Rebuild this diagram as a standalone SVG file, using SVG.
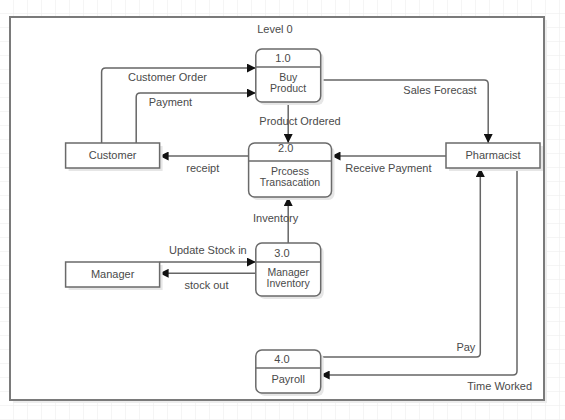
<svg xmlns="http://www.w3.org/2000/svg" width="565" height="420" viewBox="0 0 565 420">
<style>
text{font-family:"Liberation Sans",Arial,sans-serif;font-size:11px;fill:#4a4a4a;text-anchor:middle}
text.two{font-size:10.5px}
.box{fill:#fff;stroke:#6a6a6a;stroke-width:1.5}
.shadow{fill:#e6e6e6;stroke:none}
.div{stroke:#6a6a6a;stroke-width:1.5}
.conn path{fill:none;stroke:#666;stroke-width:1.5}
</style>
<defs>
<pattern id="grid" width="14" height="14" patternUnits="userSpaceOnUse" x="13" y="13">
<path d="M0 0H14M0 0V14" fill="none" stroke="#ececec" stroke-width="1"/>
</pattern>
<marker id="arr" viewBox="0 0 10 10" refX="10" refY="5" markerWidth="9" markerHeight="9" markerUnits="userSpaceOnUse" orient="auto">
<path d="M0 0L10 5L0 10z" fill="#111"/>
</marker>
</defs>
<rect width="565" height="420" fill="#fff"/>
<rect width="565" height="420" fill="url(#grid)"/>
<g id="frame">
<rect x="13" y="20" width="534" height="383" fill="#ededed"/>
<rect x="10" y="17" width="534" height="383" fill="#fff" stroke="#7a7a7a" stroke-width="2"/>
<text x="275" y="33">Level 0</text>
</g>
<g class="conn" id="connectors">
<path d="M101.6 143V72Q101.6 68 105.6 68H255.8" marker-end="url(#arr)"/>
<path d="M136.2 143V97Q136.2 93 140.2 93H255.8" marker-end="url(#arr)"/>
<path d="M320.7 80H484.2Q488.2 80 488.2 84V143" marker-end="url(#arr)"/>
<path d="M288.2 102V143" marker-end="url(#arr)"/>
<path d="M248.6 156H159.6" marker-end="url(#arr)"/>
<path d="M446 156H331.5" marker-end="url(#arr)"/>
<path d="M288.2 243V197" marker-end="url(#arr)"/>
<path d="M159.6 262H255.8" marker-end="url(#arr)"/>
<path d="M255.8 273.3H159.6" marker-end="url(#arr)"/>
<path d="M320.7 357H476.3Q480.3 357 480.3 353V168" marker-end="url(#arr)"/>
<path d="M517 168V371Q517 375 513 375H320.7" marker-end="url(#arr)"/>
<text x="167.5" y="81">Customer Order</text>
<text x="170.4" y="106">Payment</text>
<text x="440" y="94">Sales Forecast</text>
<text x="300" y="125">Product Ordered</text>
<text x="202.8" y="172">receipt</text>
<text x="388.4" y="172">Receive Payment</text>
<text x="275.6" y="222">Inventory</text>
<text x="207.9" y="254">Update Stock in</text>
<text x="206.5" y="289">stock out</text>
<text x="465.9" y="351">Pay</text>
<text x="499.7" y="390">Time Worked</text>
</g>
<g id="p1">
<rect class="shadow" x="258.8" y="52" width="64.9" height="53" rx="6"/>
<rect class="box" x="255.8" y="49" width="64.9" height="53" rx="6"/>
<line class="div" x1="255.8" y1="67" x2="320.7" y2="67"/>
<text x="283" y="62">1.0</text>
<text class="two" x="288.2" y="81">Buy</text>
<text class="two" x="288.2" y="92">Product</text>
</g>
<g id="p2">
<rect class="shadow" x="251.6" y="146" width="82.9" height="54" rx="6"/>
<rect class="box" x="248.6" y="143" width="82.9" height="54" rx="6"/>
<line class="div" x1="248.6" y1="161" x2="331.5" y2="161"/>
<text x="285.7" y="152">2.0</text>
<text class="two" x="290" y="175">Prcoess</text>
<text class="two" x="290" y="186">Transacation</text>
</g>
<g id="p3">
<rect class="shadow" x="258.8" y="246" width="64.9" height="53" rx="6"/>
<rect class="box" x="255.8" y="243" width="64.9" height="53" rx="6"/>
<line class="div" x1="255.8" y1="262" x2="320.7" y2="262"/>
<text x="282" y="257">3.0</text>
<text class="two" x="288.2" y="276">Manager</text>
<text class="two" x="288.2" y="287">Inventory</text>
</g>
<g id="p4">
<rect class="shadow" x="258.8" y="353" width="64.9" height="43" rx="6"/>
<rect class="box" x="255.8" y="350" width="64.9" height="43" rx="6"/>
<line class="div" x1="255.8" y1="368" x2="320.7" y2="368"/>
<text x="282" y="363">4.0</text>
<text x="288.2" y="383">Payroll</text>
</g>
<g id="customer">
<rect class="shadow" x="68.6" y="146" width="94" height="25"/>
<rect class="box" x="65.6" y="143" width="94" height="25"/>
<text x="112.6" y="159">Customer</text>
</g>
<g id="pharmacist">
<rect class="shadow" x="449" y="146" width="94" height="25"/>
<rect class="box" x="446" y="143" width="94" height="25"/>
<text x="493" y="159">Pharmacist</text>
</g>
<g id="manager">
<rect class="shadow" x="68.6" y="265" width="94" height="25"/>
<rect class="box" x="65.6" y="262" width="94" height="25"/>
<text x="112.6" y="278">Manager</text>
</g>
</svg>
